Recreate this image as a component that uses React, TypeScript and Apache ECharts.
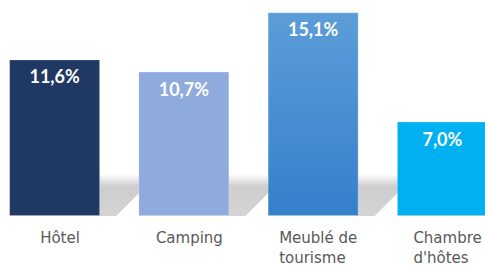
import React, { useEffect, useRef } from "react";
import * as echarts from "echarts";

const categories = ["Hôtel", "Camping", "Meublé de\ntourisme", "Chambre\nd'hôtes"];
const values = [11.6, 10.7, 15.1, 7.0];
const yMax = 16;

const LABEL_FONT = "15px 'DejaVu Sans'";

function measure(text: string): number {
  const c = document.createElement("canvas");
  const ctx = c.getContext("2d");
  if (!ctx) return 80;
  ctx.font = LABEL_FONT;
  return Math.max(...text.split("\n").map((l) => ctx.measureText(l).width));
}

export default function App() {
  const ref = useRef<HTMLDivElement>(null);
  useEffect(() => {
    if (!ref.current) return;
    const chart = echarts.init(ref.current, undefined, { renderer: "svg" });
    const barColors: any[] = [
      "#203864",
      "#8FAADC",
      new echarts.graphic.LinearGradient(0, 0, 0, 1, [
        { offset: 0, color: "#5C9DD8" },
        { offset: 1, color: "#3580CB" },
      ]),
      "#00B0F0",
    ];
    const rich: any = {};
    categories.forEach((c, i) => {
      rich["c" + i] = {
        width: Math.ceil(measure(c)),
        align: "left",
        fontFamily: "DejaVu Sans",
        fontSize: 15,
        lineHeight: 20,
        color: "#595959",
      };
    });
    const halfBar = 45.5;
    chart.setOption({
      animation: false,
      grid: {
        left: -10,
        right: -22,
        top: 0,
        bottom: 50,
        containLabel: false,
        outerBoundsMode: "none",
      },
      xAxis: {
        type: "category",
        data: categories,
        axisLine: { show: false },
        axisTick: { show: false },
        axisLabel: {
          interval: 0,
          margin: 12,
          padding: [0, 0, 0, 11],
          hideOverlap: false,
          formatter: (v: string, idx: number) =>
            v
              .split("\n")
              .map((l) => "{c" + idx + "|" + l + "}")
              .join("\n"),
          rich,
        },
      },
      yAxis: {
        type: "value",
        min: 0,
        max: yMax,
        show: false,
        splitLine: { show: false },
      },
      series: [
        {
          type: "custom",
          z: 1,
          silent: true,
          data: values.map((v, i) => [i, v]),
          renderItem: (params: any, api: any) => {
            const p = api.coord([api.value(0), 0]);
            const xL = p[0] - halfBar;
            const xR = p[0] + halfBar;
            const by = p[1];
            const h = 42;
            return {
              type: "polygon",
              shape: {
                points: [
                  [xL, by],
                  [xR + 16, by],
                  [xR + 16 + h, by - h],
                  [xL + h, by - h],
                ],
              },
              style: {
                fill: new echarts.graphic.LinearGradient(0, 0, 0, 1, [
                  { offset: 0, color: "rgba(200,200,200,0)" },
                  { offset: 0.3, color: "rgba(200,200,200,0.9)" },
                  { offset: 1, color: "rgba(212,212,212,1)" },
                ]),
              },
            };
          },
        },
        {
          type: "bar",
          z: 2,
          barWidth: 91,
          data: values.map((v, i) => ({
            value: v,
            itemStyle: {
              color: barColors[i],
              borderColor: "rgba(255,255,255,0.25)",
              borderWidth: 1,
            },
          })),
          label: {
            show: true,
            position: "insideTop",
            distance: 8,
            color: "#FFFFFF",
            fontFamily: "Lato",
            fontWeight: "bold",
            fontSize: 18,
            formatter: (p: any) => p.value.toFixed(1).replace(".", ",") + "%",
          },
        },
      ],
    });
    return () => chart.dispose();
  }, []);
  return (
    <div
      ref={ref}
      style={{ position: "absolute", left: 0, top: 0, width: 485, height: 266 }}
    />
  );
}
